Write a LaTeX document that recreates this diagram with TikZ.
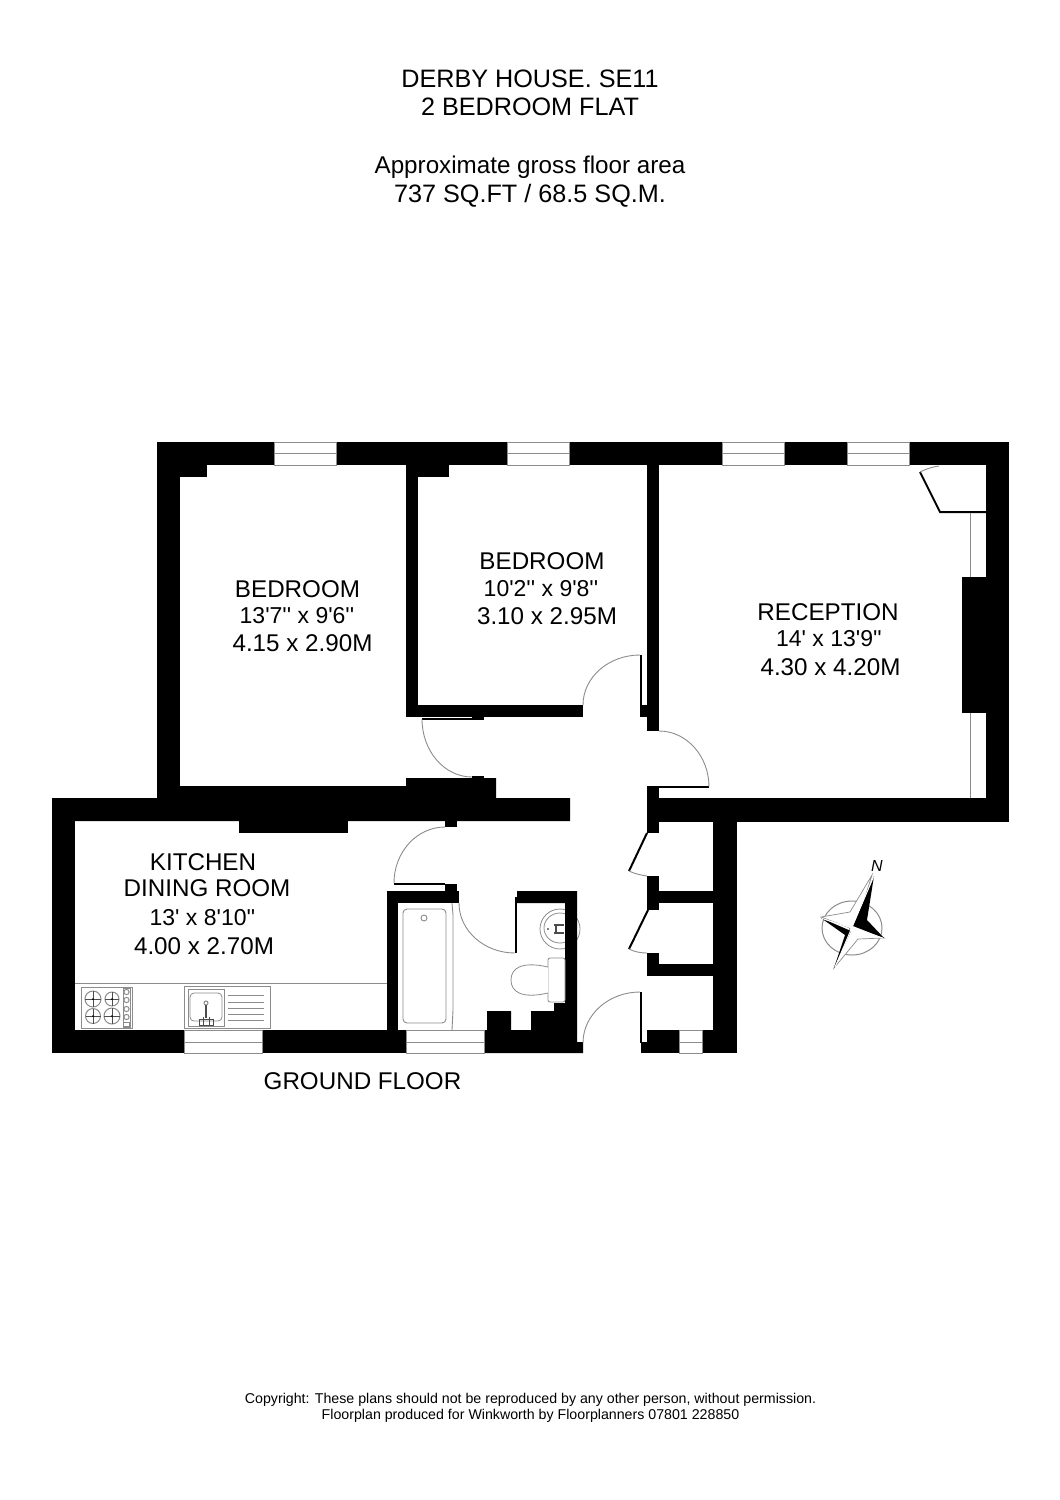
\documentclass[tikz,border=0pt]{standalone}
\usepackage{fontspec}
\newfontfamily\planfont{Liberation Sans}
\usetikzlibrary{positioning}
\tikzset{every picture/.style={line width=1pt}}
\definecolor{edge}{gray}{0.55}
\begin{document}
\begin{tikzpicture}[x=1pt,y=-1pt,
wall/.style={fill=black},
thinline/.style={draw=edge,line width=0.9pt},
leaf/.style={draw=black,line width=2pt},
swing/.style={draw=edge,line width=0.9pt},
fixture/.style={draw=edge,line width=0.8pt,fill=white},
title/.style={inner sep=0pt,font=\planfont\fontsize{25.2}{28}\selectfont},
room/.style={inner sep=0pt,font=\planfont\fontsize{24.2}{28}\selectfont},
size/.style={inner sep=0pt,font=\planfont\fontsize{23}{28}\selectfont},
small/.style={inner sep=0pt,font=\planfont\fontsize{14.2}{16}\selectfont}]

\path[use as bounding box,fill=white] (0,0) rectangle (1060,1500);

%fixtures that run under the walls
\draw[fixture] (560,929) ellipse [x radius=20,y radius=20];
\draw[fixture] (560,928) ellipse [x radius=16,y radius=15];
\fill (548,929) circle (0.8);
\draw[line width=1.2pt,black!70] (554,925) -- (564,925) (554,933) -- (564,933) (556,925) -- (556,933);

%outer walls
\fill[wall] (157,442) rectangle (1009,465);
\fill[wall] (157,442) rectangle (180,798);
\fill[wall] (986,442) rectangle (1009,822);
\fill[wall] (647,798) rectangle (1009,822);
\fill[wall] (52,798) -- (157,798) -- (180,786) -- (406,786) -- (406,778) -- (496,778) -- (496,798)
 -- (570,798) -- (570,821) -- (52,821) -- cycle;
\fill[wall] (157,786) rectangle (180,798);
\fill[wall] (52,798) rectangle (75,1053);
\fill[wall] (52,1030) rectangle (387,1053);
\fill[wall] (387,1030) rectangle (484,1053);

%inner walls and piers
\foreach \xa/\ya/\xb/\yb in {180/465/207/477, 406/465/418/717, 418/465/449/477, 647/465/659/731,
 962/577/986/713, 406/705/583/717, 640/705/647/717, 472/717/484/720, 472/776/484/778,
 239/821/348/833, 445/821/457/827, 387/891/398/1030, 387/891/459/903, 445/884/457/891,
 647/788/659/833, 647/876/659/910, 647/953/659/976, 647/964/713/976, 659/891/713/903,
 713/821/737/1053, 647/1030/679/1053, 641/1042/647/1053, 702/1030/737/1053}
 { \fill[wall] (\xa,\ya) rectangle (\xb,\yb); }

%wall round the shower room
\fill[wall] (484,1053) -- (484,1030) -- (487,1030) -- (487,1011) -- (511,1011) -- (511,1030) -- (531,1030)
 -- (531,1011) -- (554,1011) -- (554,1003) -- (565,1003) -- (565,903) -- (517,903) -- (517,891) -- (577,891)
 -- (577,1042) -- (583,1042) -- (583,1053) -- cycle;
\fill[wall] (647,786) rectangle (653,790);

%windows
\foreach \x/\w in {274/62, 507/62, 722/62, 847/62}
 { \draw[thinline,fill=white] (\x,442) rectangle +(\w,23);
   \draw[thinline] (\x,453.5) -- +(\w,0); }
\foreach \x/\w in {184/78, 406/78, 679/23}
 { \draw[thinline,fill=white] (\x,1030) rectangle +(\w,23);
   \draw[thinline] (\x,1042) -- +(\w,0); }

%doors
\draw[leaf] (422,719) -- (472,719);
\draw[swing] (422,719) arc [start angle=180,end angle=90,x radius=50,y radius=58];
\draw[leaf] (641,655) -- (641,706);
\draw[swing] (583,705) arc [start angle=180,end angle=270,x radius=57,y radius=50];
\draw[leaf] (653,787) -- (709,787);
\draw[swing] (659,731) arc [start angle=270,end angle=360,x radius=50,y radius=56];
\draw[leaf] (394,884) -- (445,884);
\draw[swing] (445,827) arc [start angle=270,end angle=180,x radius=51,y radius=56];
\draw[leaf] (516,897) -- (516,953);
\draw[swing] (459,903) arc [start angle=180,end angle=90,x radius=56,y radius=50];
\draw[leaf] (641,992) -- (641,1043);
\draw[swing] (583,1043) arc [start angle=180,end angle=270,x radius=57,y radius=51];

%cupboard doors
\draw[leaf] (647,833) -- (629,871);
\draw[swing] (629,871) .. controls (635,874) and (641,875) .. (647,876);
\draw[leaf] (648,910) -- (629,949);
\draw[swing] (629,949) .. controls (635,952) and (641,953) .. (647,953);
\draw[leaf] (986,512) -- (940,512) -- (920,472);
\draw[swing] (920,472) .. controls (926,469) and (932,467) .. (939,466);
\draw[thinline] (970,513) -- (970,577) (970,713) -- (970,798);

%kitchen
\draw[thinline] (75,983) -- (387,983);
\draw[fixture] (81,987) rectangle (132,1028);
\draw[fixture] (123,988) rectangle (130,1027);
\foreach \x/\y/\r in {93/999/8, 112/999/7, 93/1016/7.5, 112/1016/8}
 { \draw[draw=edge] (\x,\y) circle (\r);
   \draw[black!70,line width=0.5pt] (\x-\r,\y) -- (\x+\r,\y) (\x,\y-\r) -- (\x,\y+\r);
   \fill (\x,\y) circle (1); }
\foreach \y in {992,1000,1009,1017}
 { \draw[draw=edge] (126.5,\y) circle (2.6); }
\draw[draw=edge] (123.5,1022) rectangle (129.5,1026);
\draw[fixture] (184,986) rectangle (270,1028);
\draw[fixture] (188,989) rectangle (224,1026);
\draw[fixture,rounded corners=4] (190,993) rectangle (222,1021);
\foreach \y in {995,1002,1008,1014,1020}
 { \draw[thinline] (228,\y) -- (264,\y); }
\draw[draw=edge] (206,1003) circle (2);
\draw[black!70,line width=1.5pt] (206,1005) -- (206,1018);
\draw[black!70,line width=0.8pt] (199,1019) rectangle (213,1025) (203,1017) -- (203,1025) (209,1017) -- (209,1025);

%bathroom
\draw[thinline] (452,903) -- (453,915) -- (453,1010) -- (452,1030);
\draw[thinline,rounded corners=4] (403,909) rectangle (446,1023);
\draw[thinline] (424,918) circle (3);
\draw[fixture,rounded corners=2] (548,958) rectangle (565,1002);
\draw[fixture] (548,967) .. controls (522,961) and (511,968) .. (511,980) .. controls (511,992) and (522,999) .. (548,993);

%north point
\draw[draw=edge] (852,928) ellipse [x radius=30,y radius=27];
\fill[white,draw=edge,line width=0.7pt] (872,875) -- (850,912) -- (821,917) -- (850,928) -- (834,968) -- (858,939) -- (884,938) -- (856,926) -- cycle;
\fill (874,876) -- (867,920) -- (884,938) -- (853,926) -- cycle;
\fill (834,968) -- (851,931) -- (821,918) -- (845,935) -- cycle;
\draw[white,line width=0.9pt] (873.5,877) -- (835,967) (822,918.5) -- (883,938);
\node (north) at (877,866) [inner sep=0pt,font=\planfont\itshape\fontsize{16}{17}\selectfont] {N};

%titles
\node (t1) at (530,79) [title] {DERBY HOUSE. SE11};
\node (t2) at (530,107) [title] {2 BEDROOM FLAT};
\node (t3) at (530,167.5) [room] {Approximate gross floor area};
\node (t4) at (530,195.5) [title] {737 SQ.FT / 68.5 SQ.M.};

%rooms
\node (bedA1) at (297.5,589) [room] {BEDROOM};
\node (bedA2) at (297,616) [size] {13'7'' x 9'6''};
\node (bedA3) at (302.5,643) [room] {4.15 x 2.90M};
\node (bedB1) at (542,561) [room] {BEDROOM};
\node (bedB2) at (541,589) [size] {10'2'' x 9'8''};
\node (bedB3) at (547,616) [room] {3.10 x 2.95M};
\node (rec1) at (828,612) [room] {RECEPTION};
\node (rec2) at (829,639) [size] {14' x 13'9''};
\node (rec3) at (830.5,667) [room] {4.30 x 4.20M};
\node (kit1) at (203,862) [room] {KITCHEN};
\node (kit2) at (207,888) [room] {DINING ROOM};
\node (kit3) at (202.5,918) [size] {13' x 8'10''};
\node (kit4) at (204,946) [room] {4.00 x 2.70M};
\node (floor) at (362.5,1081) [room] {GROUND FLOOR};

%footer
\node (copy) at (530.5,1400) [small] {Copyright: These plans should not be reproduced by any other person, without permission.};
\node (prod) at (530.5,1416) [small] {Floorplan produced for Winkworth by Floorplanners 07801 228850};

\end{tikzpicture}
\end{document}
